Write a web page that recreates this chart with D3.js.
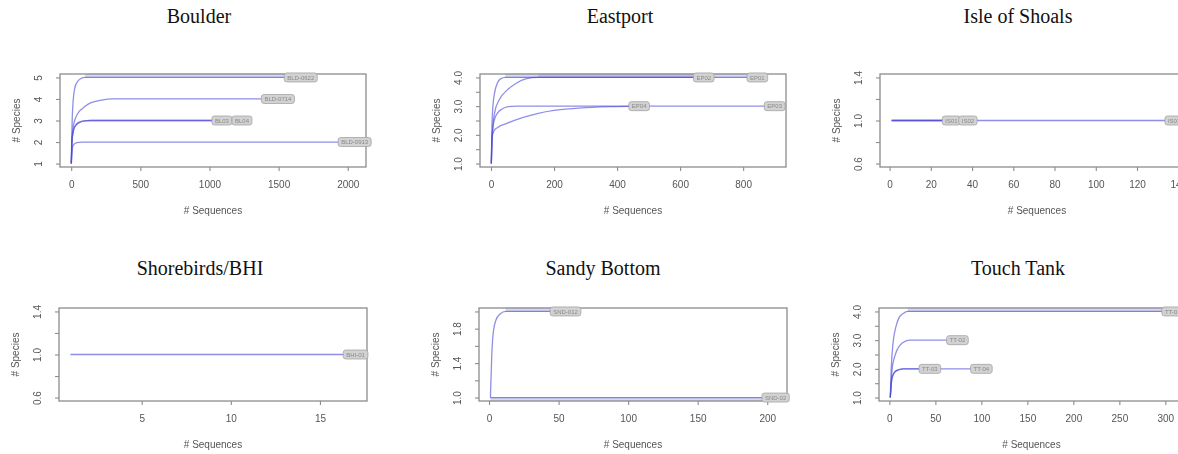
<!DOCTYPE html>
<html>
<head>
<meta charset="utf-8">
<script src="https://cdn.jsdelivr.net/npm/d3@7"></script>
<style>
  body { margin: 0; background: #fff; }
  svg { display: block; }
</style>
</head>
<body>
<svg id="chart"></svg>
<script>
// ---- data ----
const siteNames = ["Boulder", "Eastport", "Isle of Shoals", "Shorebirds/BHI", "Sandy Bottom", "Touch Tank"];

// largest sample (sequences) per site -> end of the x range
const maxSequences = [2050, 900, 142, 17, 206, 308];
// species range per site (R widens a constant range to +/-0.4)
const speciesRange = [[1, 5], [1, 4], [0.6, 1.4], [0.6, 1.4], [1, 2], [1, 4]];

const xTickValues = [
  [0, 500, 1000, 1500, 2000],
  [0, 200, 400, 600, 800],
  [0, 20, 40, 60, 80, 100, 120, 140],
  [5, 10, 15],
  [0, 50, 100, 150, 200],
  [0, 50, 100, 150, 200, 250, 300]
];
const yTickValues = [
  [1, 2, 3, 4, 5],
  [1, 1.5, 2, 2.5, 3, 3.5, 4],
  [0.6, 0.8, 1, 1.2, 1.4],
  [0.6, 0.8, 1, 1.2, 1.4],
  [1, 1.2, 1.4, 1.6, 1.8, 2],
  [1, 1.5, 2, 2.5, 3, 3.5, 4]
];
const yTickLabels = [
  ["1", "2", "3", "4", "5"],
  ["1.0", "", "2.0", "", "3.0", "", "4.0"],
  ["0.6", "", "1.0", "", "1.4"],
  ["0.6", "", "1.0", "", "1.4"],
  ["1.0", "", "1.4", "", "1.8", ""],
  ["1.0", "", "2.0", "", "3.0", "", "4.0"]
];

// curves: [sequences, species]
const boulderSamples = ["BLD-0622", "BLD-0714", "BL03", "BL04", "BLD-0913"];
const boulderCurves = [
  [[1, 1], [4, 2.2], [8, 3.2], [14, 3.9], [24, 4.45], [40, 4.75], [70, 4.95], [100, 5], [1660, 5]],
  [[1, 1], [5, 2], [12, 2.6], [25, 3], [50, 3.35], [80, 3.55], [120, 3.75], [170, 3.88], [220, 3.95], [300, 4], [1495, 4]],
  [[1, 1], [5, 2], [15, 2.5], [30, 2.75], [60, 2.9], [100, 2.98], [150, 3], [1090, 3]],
  [[1, 1], [4, 1.8], [10, 2.3], [25, 2.7], [50, 2.9], [90, 2.98], [130, 3], [1235, 3]],
  [[1, 1], [5, 1.5], [15, 1.85], [40, 1.97], [80, 2], [2050, 2]]
];

const eastportSamples = ["EP01", "EP02", "EP03", "EP04"];
const eastportCurves = [
  [[1, 1], [3, 2.3], [6, 3], [12, 3.5], [20, 3.8], [30, 3.95], [45, 4], [845, 4]],
  [[1, 1], [5, 2.2], [12, 2.8], [25, 3.2], [50, 3.55], [80, 3.8], [110, 3.95], [150, 4], [675, 4]],
  [[1, 1], [4, 2], [10, 2.5], [20, 2.75], [35, 2.9], [55, 2.98], [80, 3], [900, 3]],
  [[1, 1], [3, 1.9], [10, 2.15], [20, 2.25], [50, 2.4], [100, 2.6], [150, 2.75], [200, 2.85], [280, 2.93], [380, 2.98], [470, 3]]
];

const isleSamples = ["IS01", "IS02", "IS03"];
const isleCurves = [
  [[1, 1], [30, 1]],
  [[1, 1], [38, 1]],
  [[1, 1], [138, 1]]
];

const shorebirdSamples = ["BHI-01"];
const shorebirdCurves = [
  [[1, 1], [17, 1]]
];

const sandySamples = ["SND-012", "SND-02"];
const sandyCurves = [
  [[1, 1], [2, 1.5], [3, 1.75], [5, 1.9], [8, 1.97], [12, 2], [55, 2]],
  [[1, 1], [206, 1]]
];

const touchSamples = ["TT-01", "TT-02", "TT-03", "TT-04"];
const touchCurves = [
  [[1, 1], [2, 2], [4, 2.9], [7, 3.45], [10, 3.75], [15, 3.93], [20, 4], [308, 4]],
  [[1, 1], [3, 2], [6, 2.45], [9, 2.7], [14, 2.9], [22, 3], [74, 3]],
  [[1, 1], [3, 1.7], [6, 1.9], [10, 1.97], [15, 2], [44, 2]],
  [[1, 1], [2, 1.5], [5, 1.85], [10, 1.96], [16, 2], [100, 2]]
];

const sampleNames = [boulderSamples, eastportSamples, isleSamples, shorebirdSamples, sandySamples, touchSamples];
const sampleCurves = [boulderCurves, eastportCurves, isleCurves, shorebirdCurves, sandyCurves, touchCurves];

// ---- layout ----
const W = 1178, H = 454;
const plotH = 93;
const layout = [
  { left: 60, top: 74, width: 306, titleX: 199, titleY: 23 },
  { left: 480, top: 74, width: 306, titleX: 620, titleY: 23 },
  { left: 880, top: 74, width: 314, titleX: 1018, titleY: 23 },
  { left: 59, top: 308, width: 308, titleX: 200, titleY: 275 },
  { left: 479, top: 308, width: 308, titleX: 603, titleY: 275 },
  { left: 879, top: 308, width: 305, titleX: 1018, titleY: 275 }
];

const lineColor = "#4a4ad8";
const boxColor = "#8c8c8c";
const textColor = "#555";

const svg = d3.select("#chart").attr("width", W).attr("height", H);

svg.append("defs").append("filter")
  .attr("id", "soft")
  .append("feGaussianBlur")
  .attr("stdDeviation", 0.45);

siteNames.forEach((site, i) => {
  const L = layout[i];
  const N = maxSequences[i];
  const [yLo, yHi] = speciesRange[i];
  const xPad = 0.04 * (N - 1);
  const yPad = 0.04 * (yHi - yLo);
  const bottom = L.top + plotH;

  const x = d3.scaleLinear().domain([1 - xPad, N + xPad]).range([L.left, L.left + L.width]);
  const y = d3.scaleLinear().domain([yLo - yPad, yHi + yPad]).range([bottom, L.top]);

  svg.append("text")
    .attr("x", L.titleX)
    .attr("y", L.titleY)
    .attr("text-anchor", "middle")
    .style("font-family", "'Liberation Serif', 'Times New Roman', serif")
    .style("font-size", "20px")
    .style("fill", "#111")
    .text(site);

  const g = svg.append("g").attr("filter", "url(#soft)");

  // x axis
  const xAxisG = g.append("g")
    .attr("transform", `translate(0,${bottom})`)
    .call(d3.axisBottom(x).tickValues(xTickValues[i]).tickSize(4).tickSizeOuter(0).tickFormat(d3.format("d")));
  xAxisG.select(".domain").remove();
  xAxisG.selectAll("line").attr("stroke", boxColor).attr("stroke-width", 1.1);
  xAxisG.selectAll("text")
    .attr("y", 21).attr("dy", 0)
    .style("font-family", "'Liberation Sans', Arial, sans-serif")
    .style("font-size", "10px")
    .style("fill", textColor);

  // y axis, labels parallel to the axis like R's las = 0
  const labels = yTickLabels[i];
  const yAxisG = g.append("g")
    .attr("transform", `translate(${L.left},0)`)
    .call(d3.axisLeft(y).tickValues(yTickValues[i]).tickSize(4).tickSizeOuter(0)
      .tickFormat((d, k) => labels[k]));
  yAxisG.select(".domain").remove();
  yAxisG.selectAll("line").attr("stroke", boxColor).attr("stroke-width", 1.1);
  yAxisG.selectAll("text")
    .attr("transform", "rotate(-90)")
    .attr("x", 0).attr("y", -18.5).attr("dy", 0)
    .attr("text-anchor", "middle")
    .style("font-family", "'Liberation Sans', Arial, sans-serif")
    .style("font-size", "10px")
    .style("fill", textColor);

  // axis titles
  g.append("text")
    .attr("x", L.left + L.width / 2)
    .attr("y", bottom + 47)
    .attr("text-anchor", "middle")
    .style("font-family", "'Liberation Sans', Arial, sans-serif")
    .style("font-size", "10px")
    .style("fill", textColor)
    .text("# Sequences");

  g.append("text")
    .attr("transform", `translate(${L.left - 40.5},${L.top + plotH / 2}) rotate(-90)`)
    .attr("text-anchor", "middle")
    .style("font-family", "'Liberation Sans', Arial, sans-serif")
    .style("font-size", "10px")
    .style("fill", textColor)
    .text("# Species");

  const line = d3.line().x(d => x(d[0])).y(d => y(d[1])).curve(d3.curveMonotoneX);

  // faint band where a flat curve runs along the top or bottom of the box
  sampleCurves[i].forEach(pts => {
    if (yLo < 1) return;
    const last = pts[pts.length - 1][1];
    const atTop = last === yHi;
    const atBottom = last === yLo && yHi - yLo <= 1;
    if (!atTop && !atBottom) return;
    const flat = pts.filter(p => p[1] === last);
    g.append("path")
      .datum(flat)
      .attr("d", line)
      .attr("transform", `translate(0,${atTop ? -1.8 : 1.8})`)
      .attr("fill", "none")
      .attr("stroke", "#8f8fe6")
      .attr("stroke-opacity", 0.35)
      .attr("stroke-width", 4.5);
  });

  sampleCurves[i].forEach(pts => {
    g.append("path")
      .datum(pts)
      .attr("d", line)
      .attr("fill", "none")
      .attr("stroke", lineColor)
      .attr("stroke-opacity", 0.62)
      .attr("stroke-width", 1.3);
  });

  // plot box
  g.append("rect")
    .attr("x", L.left).attr("y", L.top)
    .attr("width", L.width).attr("height", plotH)
    .attr("fill", "none")
    .attr("stroke", boxColor)
    .attr("stroke-width", 1.3);

  // sample labels at the curve ends (ordilabel style)
  sampleCurves[i].forEach((pts, k) => {
    const end = pts[pts.length - 1];
    const lab = g.append("g").attr("transform", `translate(${x(end[0])},${y(end[1])})`);
    const t = lab.append("text")
      .attr("text-anchor", "middle")
      .attr("dy", "0.35em")
      .style("font-family", "'Liberation Sans', Arial, sans-serif")
      .style("font-size", "6px")
      .style("fill", "#8a8a8a")
      .text(sampleNames[i][k]);
    const w = t.node().getComputedTextLength() + 6;
    lab.insert("rect", "text")
      .attr("x", -w / 2).attr("y", -4.5)
      .attr("width", w).attr("height", 9)
      .attr("rx", 2.5)
      .attr("fill", "#d2d2d2")
      .attr("stroke", "#a5a5a5")
      .attr("stroke-width", 0.8);
  });
});
</script>
</body>
</html>
